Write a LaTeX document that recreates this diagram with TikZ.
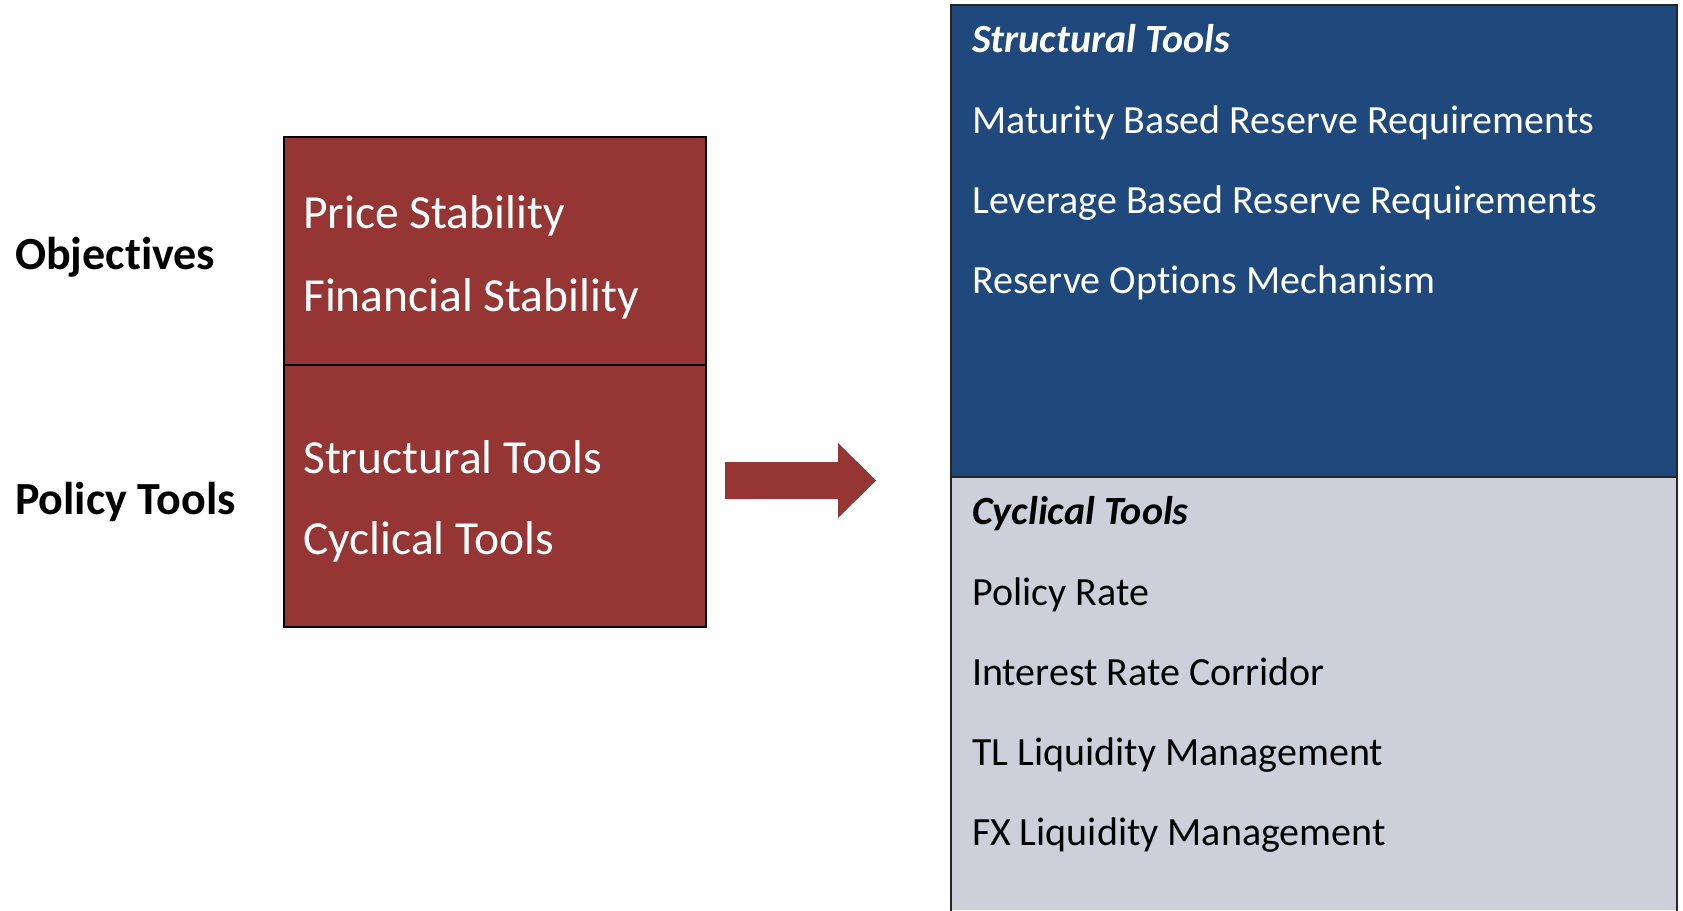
\documentclass[tikz,border=0pt]{standalone}
\usepackage{fontspec}
\setmainfont[Ligatures={NoCommon}]{Carlito}
\definecolor{boxred}{RGB}{149,54,52}
\definecolor{boxblue}{RGB}{31,73,125}
\definecolor{boxgrey}{RGB}{205,208,218}
\begin{document}
\begin{tikzpicture}[x=1pt,y=-1pt,
  panel/.style={draw=black,line width=2pt,rectangle,inner sep=0pt,anchor=north west},
  heading/.style={font=\fontsize{46}{50}\selectfont\bfseries,anchor=base west,inner sep=0pt,text=black},
  redtext/.style={font=\fontsize{47.5}{50}\selectfont,anchor=base west,inner sep=0pt,text=white},
  listtext/.style={font=\fontsize{40}{44}\selectfont,anchor=base west,inner sep=0pt},
  listhead/.style={listtext,font=\fontsize{40}{44}\selectfont\bfseries\itshape}]
\useasboundingbox (0,0) rectangle (1683,910);

% row labels
\node[heading] (objectives) at (15,269) {Objectives};
\node[heading] (policytools) at (15,514) {Policy Tools};

% red summary boxes
\node[panel,fill=boxred,minimum width=422pt,minimum height=228pt] (objbox) at (283,136) {};
\node[panel,fill=boxred,minimum width=422pt,minimum height=262pt] (toolbox) at (283,364) {};
\node[redtext] (price) at (303,228) {Price Stability};
\node[redtext] (financial) at (303,311) {Financial Stability};
\node[redtext] (structural) at (303,473) {Structural Tools};
\node[redtext] (cyclical) at (303,554) {Cyclical Tools};

% block arrow
\fill[boxred] (725,462) -- (838,462) -- (838,443) -- (876,480.5) -- (838,518)
  -- (838,499) -- (725,499) -- cycle;

% detail panels on the right
\fill[boxblue] (951,5) rectangle (1677,477);
\fill[boxgrey] (951,477) rectangle (1677,910);
\coordinate (blt) at (951,5);
\coordinate (brt) at (1677,5);
\coordinate (bdl) at (951,477);
\coordinate (bdr) at (1677,477);
\coordinate (blb) at (951,912);
\coordinate (brb) at (1677,912);
\draw[line width=2.5pt,draw=black!85] (blb) -- (blt) -- (brt) -- (brb);
\draw[line width=2.5pt,draw=black!85] (bdl) -- (bdr);

\node[listhead,text=white] (sthead) at (972,52) {Structural Tools};
\node[listtext,text=white] (st1) at (972,133) {Maturity Based Reserve Requirements};
\node[listtext,text=white] (st2) at (972,213) {Leverage Based Reserve Requirements};
\node[listtext,text=white] (st3) at (972,293) {Reserve Options Mechanism};

\node[listhead,text=black] (cyhead) at (972,524) {Cyclical Tools};
\node[listtext,text=black] (cy1) at (972,605) {Policy Rate};
\node[listtext,text=black] (cy2) at (972,685) {Interest Rate Corridor};
\node[listtext,text=black] (cy3) at (972,765) {TL Liquidity Management};
\node[listtext,text=black] (cy4) at (972,845) {FX Liquidity Management};
\end{tikzpicture}
\end{document}
